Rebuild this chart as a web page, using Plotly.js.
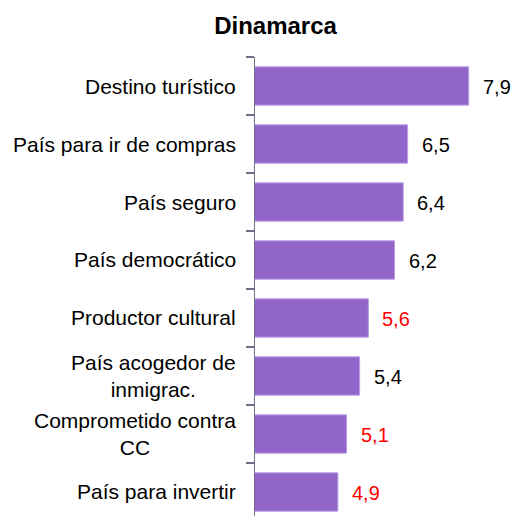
<!DOCTYPE html>
<html>
<head>
<meta charset="utf-8">
<script src="https://cdn.plot.ly/plotly-3.0.1.min.js"></script>
<style>html,body{margin:0;padding:0;background:#fff;}#chart{width:514px;height:516px;}</style>
</head>
<body>
<div id="chart"></div>
<script>
// ---- data ----
const categories = [
  "Destino turístico",
  "País para ir de compras",
  "País seguro",
  "País democrático",
  "Productor cultural",
  "País acogedor de<br>inmigrac.",
  "Comprometido contra<br>CC",
  "País para invertir"
];
const values = [7.9, 6.5, 6.4, 6.2, 5.6, 5.4, 5.1, 4.9];
const highlighted = [false, false, false, false, true, false, true, true];
const chartTitle = "Dinamarca";

// ---- style ----
const FONT = "Liberation Sans, Arial, sans-serif";
const fmt = v => v.toFixed(1).replace('.', ',');

const trace = {
  type: 'bar',
  orientation: 'h',
  x: values,
  y: categories,
  marker: { color: '#9265CB', line: { color: '#B99DE4', width: 1 } },
  hoverinfo: 'none'
};

const annotations = [];
categories.forEach((c, i) => {
  annotations.push({
    xref: 'paper', yref: 'y', x: 0, y: c,
    text: c, showarrow: false, xanchor: 'right', yanchor: 'middle',
    align: 'center', xshift: -17,
    font: { family: FONT, size: 21, color: '#000' }
  });
  annotations.push({
    xref: 'x', yref: 'y', x: values[i], y: c,
    text: fmt(values[i]), showarrow: false, xanchor: 'left', yanchor: 'middle',
    xshift: 12, yshift: -1,
    font: { family: FONT, size: 20, color: highlighted[i] ? '#FF0000' : '#000' }
  });
});

const layout = {
  width: 514, height: 516,
  margin: { l: 255, r: 0, t: 57, b: 0, pad: 0 },
  paper_bgcolor: '#fff', plot_bgcolor: '#fff',
  showlegend: false,
  bargap: 0.34,
  title: {
    text: '<b>' + chartTitle + '</b>',
    xref: 'container', yref: 'container',
    x: 275.5 / 514, xanchor: 'center',
    y: 1 - 26 / 516, yanchor: 'middle',
    font: { family: FONT, size: 24, color: '#000' }
  },
  xaxis: {
    range: [3, 8.94], showgrid: false, zeroline: false,
    showline: false, showticklabels: false, ticks: ''
  },
  yaxis: {
    type: 'category',
    range: [7.414, -0.5],
    showgrid: false, zeroline: false,
    showline: true, linecolor: '#70708A', linewidth: 1.3,
    ticks: 'outside', tickson: 'boundaries', ticklen: 8,
    tickcolor: '#70708A', tickwidth: 1.3,
    showticklabels: false
  },
  annotations: annotations
};

Plotly.newPlot('chart', [trace], layout, { displayModeBar: false, staticPlot: true });
</script>
</body>
</html>
